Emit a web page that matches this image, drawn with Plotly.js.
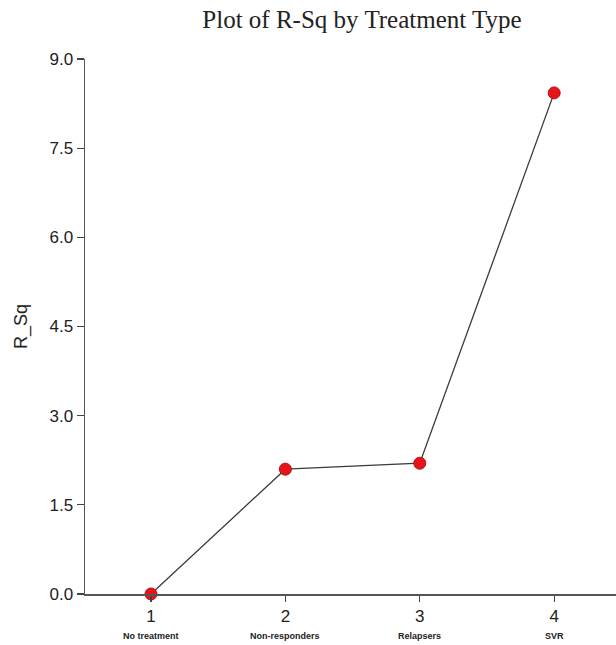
<!DOCTYPE html>
<html>
<head>
<meta charset="utf-8">
<script src="https://cdn.plot.ly/plotly-3.0.1.min.js"></script>
<style>html,body{margin:0;padding:0;background:#fff;}#chart{width:616px;height:645px;}</style>
</head>
<body>
<div id="chart"></div>
<script>
const xValues = [1, 2, 3, 4];
const categories = ["No treatment", "Non-responders", "Relapsers", "SVR"];
const rSq = [0.0, 2.1, 2.2, 8.43];
const yTicks = [0, 1.5, 3.0, 4.5, 6.0, 7.5, 9.0];
const yTickLabels = ["0.0", "1.5", "3.0", "4.5", "6.0", "7.5", "9.0"];

const trace = {
  x: xValues,
  y: rSq,
  type: "scatter",
  mode: "lines+markers",
  line: {color: "#3a3a3a", width: 1.3},
  marker: {color: "#e8141a", size: 12, line: {color: "#b01015", width: 1}},
  cliponaxis: false,
  hoverinfo: "x+y"
};

const annotations = categories.map((c, i) => ({
  x: xValues[i], xref: "x", y: 0, yref: "paper",
  yanchor: "middle", xanchor: "center", yshift: -42,
  text: "<b>" + c + "</b>", showarrow: false,
  font: {family: "Liberation Sans, Arial, sans-serif", size: 9, color: "#222"}
}));

const layout = {
  width: 616, height: 645,
  margin: {l: 85, r: 0, t: 59, b: 51},
  paper_bgcolor: "#fff", plot_bgcolor: "#fff",
  showlegend: false,
  title: {
    text: "Plot of R-Sq by Treatment Type",
    font: {family: "Liberation Serif, Times New Roman, serif", size: 25, color: "#222"},
    xref: "container", x: 362/616, xanchor: "center",
    yref: "container", y: 1 - 19/645, yanchor: "middle"
  },
  xaxis: {
    range: [0.509, 4.46],
    tickmode: "array", tickvals: xValues, ticktext: xValues.map(String),
    ticks: "outside", ticklen: 6, tickwidth: 1.2, tickcolor: "#444",
    showline: true, linecolor: "#555", linewidth: 1.5,
    showgrid: false, zeroline: false,
    tickfont: {family: "Liberation Sans, Arial, sans-serif", size: 17, color: "#222"}
  },
  yaxis: {
    range: [0, 9],
    tickmode: "array", tickvals: yTicks, ticktext: yTickLabels,
    ticks: "outside", ticklen: 7, tickwidth: 1.2, tickcolor: "#444",
    showline: true, linecolor: "#555", linewidth: 1.5,
    showgrid: false, zeroline: false,
    tickfont: {family: "Liberation Sans, Arial, sans-serif", size: 17, color: "#222"},
    title: {text: "R_Sq", standoff: 17, font: {family: "Liberation Sans, Arial, sans-serif", size: 18, color: "#222"}}
  },
  annotations: annotations
};

Plotly.newPlot("chart", [trace], layout, {displayModeBar: false, staticPlot: true});
</script>
</body>
</html>
